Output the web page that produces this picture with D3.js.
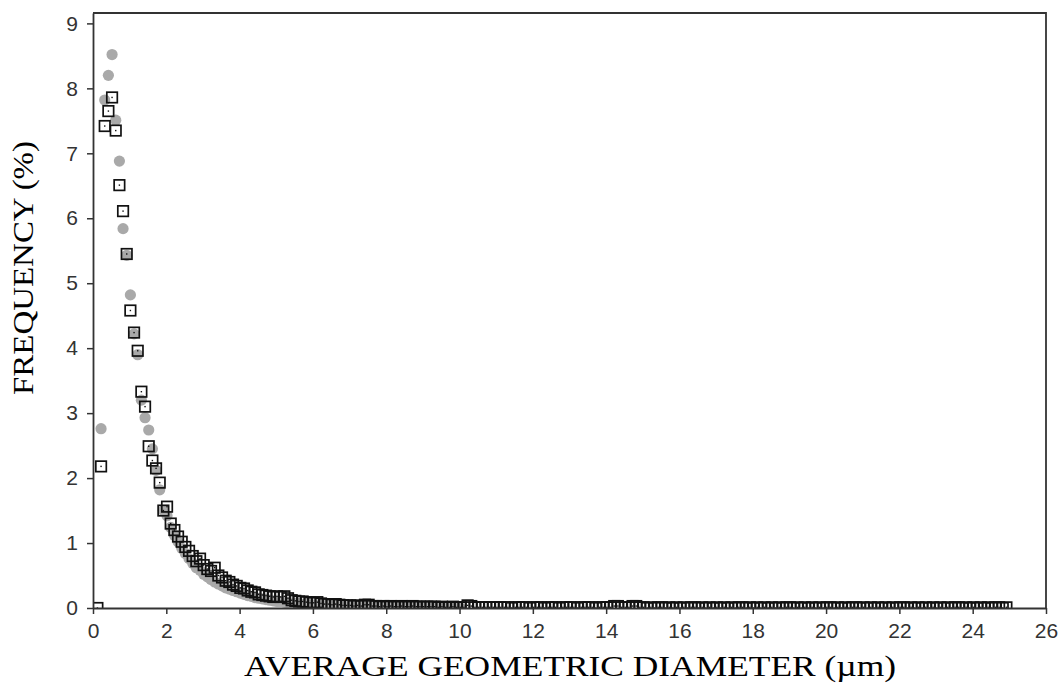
<!DOCTYPE html>
<html>
<head>
<meta charset="utf-8">
<script src="https://cdn.jsdelivr.net/npm/d3@7"></script>
<style>
  body { margin: 0; background: #fff; }
  svg { display: block; }
</style>
</head>
<body>
<svg id="chart" width="1060" height="692"></svg>
<script>
// Size classes: first bin centre and bin width (µm)
const binStart = 0.12;
const binStep = 0.1;

// Frequency (%) per size class, sample measured with open squares
const squareFreq = [
  0.00, 2.18, 7.42, 7.65, 7.86, 7.35, 6.51, 6.11, 5.45, 4.58,
  4.24, 3.96, 3.33, 3.10, 2.49, 2.27, 2.15, 1.93, 1.50, 1.56,
  1.30, 1.20, 1.10, 1.02, 0.94, 0.88, 0.80, 0.72, 0.76, 0.66,
  0.60, 0.57, 0.62, 0.50, 0.47, 0.42, 0.40, 0.36, 0.34, 0.31,
  0.30, 0.27, 0.25, 0.24, 0.21, 0.20, 0.19, 0.18, 0.17, 0.18,
  0.17, 0.18, 0.15, 0.12, 0.11, 0.10, 0.10, 0.09, 0.08, 0.08,
  0.09, 0.07, 0.06, 0.06, 0.05, 0.06, 0.05, 0.04, 0.04, 0.04,
  0.03, 0.04, 0.03, 0.05, 0.05, 0.03, 0.03, 0.02, 0.03, 0.02,
  0.03, 0.02, 0.02, 0.03, 0.02, 0.02, 0.03, 0.02, 0.02, 0.02,
  0.02, 0.02, 0.02, 0.01, 0.02, 0.01, 0.01, 0.02, 0.01, 0.01,
  0.01, 0.04, 0.03, 0.01, 0.01, 0.01, 0.01, 0.01, 0.01, 0.01,
  0.01, 0.01, 0.01, 0.00, 0.01, 0.01, 0.01, 0.01, 0.00, 0.01,
  0.01, 0.01, 0.00, 0.01, 0.01, 0.01, 0.00, 0.01, 0.01, 0.01,
  0.01, 0.00, 0.01, 0.01, 0.01, 0.01, 0.00, 0.01, 0.01, 0.01,
  0.01, 0.03, 0.03, 0.01, 0.01, 0.01, 0.03, 0.03, 0.01, 0.01,
  0.00, 0.01, 0.00, 0.01, 0.01, 0.00, 0.01, 0.00, 0.01, 0.00,
  0.01, 0.00, 0.01, 0.01, 0.00, 0.01, 0.00, 0.01, 0.00, 0.01,
  0.00, 0.01, 0.00, 0.01, 0.00, 0.01, 0.01, 0.00, 0.01, 0.00,
  0.01, 0.00, 0.01, 0.00, 0.01, 0.00, 0.01, 0.00, 0.01, 0.01,
  0.00, 0.01, 0.00, 0.01, 0.00, 0.01, 0.00, 0.01, 0.00, 0.01,
  0.01, 0.00, 0.01, 0.00, 0.01, 0.00, 0.01, 0.01, 0.00, 0.01,
  0.00, 0.01, 0.00, 0.01, 0.00, 0.01, 0.00, 0.01, 0.00, 0.01,
  0.01, 0.00, 0.01, 0.00, 0.01, 0.00, 0.01, 0.00, 0.01, 0.00,
  0.01, 0.00, 0.01, 0.00, 0.01, 0.01, 0.00, 0.01, 0.00, 0.01,
  0.00, 0.01, 0.00, 0.01, 0.00, 0.01, 0.01, 0.00, 0.01
];

// Frequency (%) per size class, sample shown with grey dots (no reading in the first class)
const circleFreq = [
  null, 2.76, 7.82, 8.20, 8.52, 7.51, 6.88, 5.84, 5.43, 4.82,
  4.22, 3.90, 3.20, 2.93, 2.74, 2.45, 2.12, 1.82, 1.50, 1.42,
  1.24, 1.12, 1.02, 0.92, 0.84, 0.76, 0.69, 0.62, 0.58, 0.52,
  0.48, 0.44, 0.40, 0.37, 0.34, 0.31, 0.29, 0.27, 0.25, 0.23,
  0.21, 0.19, 0.18, 0.16, 0.15, 0.14, 0.13, 0.12, 0.11, 0.10,
  0.10, 0.09, 0.08, 0.08, 0.07, 0.07, 0.06, 0.06, 0.05, 0.05,
  0.05, 0.04, 0.04, 0.04, 0.03, 0.03, 0.03, 0.03, 0.03, 0.02,
  0.02, 0.02, 0.02, 0.02, 0.02, 0.02, 0.01, 0.02, 0.01, 0.01,
  0.01, 0.01, 0.01, 0.01, 0.01, 0.01, 0.01, 0.01, 0.01, 0.01,
  0.01, 0.01, 0.00, 0.01, 0.00, 0.01, 0.00, 0.01, 0.00, 0.00
];

const xTickValues = [0, 2, 4, 6, 8, 10, 12, 14, 16, 18, 20, 22, 24, 26];
const yTickValues = [0, 1, 2, 3, 4, 5, 6, 7, 8, 9];
const xTitle = "AVERAGE GEOMETRIC DIAMETER (\u00b5m)";
const yTitle = "FREQUENCY (%)";

const svg = d3.select("#chart");
const plot = { left: 93, top: 13, right: 1046, bottom: 608 };

const x = d3.scaleLinear().domain([0, 26]).range([plot.left, plot.right]);
const y = d3.scaleLinear().domain([0, 9.16]).range([plot.bottom, plot.top]);

const toPoints = arr => arr
  .map((v, i) => ({ d: binStart + binStep * i, f: v }))
  .filter(p => p.f !== null);
const squares = toPoints(squareFreq);
const circles = toPoints(circleFreq);

svg.append("defs").append("clipPath").attr("id", "plotClip")
  .append("rect")
  .attr("x", plot.left).attr("y", plot.top)
  .attr("width", plot.right - plot.left).attr("height", plot.bottom - plot.top);

const marks = svg.append("g").attr("clip-path", "url(#plotClip)");

// grey dots underneath
marks.append("g").selectAll("circle")
  .data(circles).join("circle")
  .attr("cx", p => x(p.d))
  .attr("cy", p => y(p.f))
  .attr("r", 5.6)
  .attr("fill", "#a9a9a9");

// open squares with a centre dot on top
const sq = 10.5;
const sqG = marks.append("g");
sqG.selectAll("rect.box")
  .data(squares).join("rect")
  .attr("class", "box")
  .attr("x", p => x(p.d) - sq / 2)
  .attr("y", p => y(p.f) - sq / 2)
  .attr("width", sq).attr("height", sq)
  .attr("fill", "none")
  .attr("stroke", "#111")
  .attr("stroke-width", 1.7);
sqG.selectAll("rect.dot")
  .data(squares).join("rect")
  .attr("class", "dot")
  .attr("x", p => x(p.d) - 0.7)
  .attr("y", p => y(p.f) - 0.7)
  .attr("width", 1.4).attr("height", 1.4)
  .attr("fill", "#111");

// axes
const tickFont = "'Liberation Sans', Arial, sans-serif";
const xAxis = svg.append("g")
  .attr("transform", `translate(0,${plot.bottom})`)
  .call(d3.axisBottom(x).tickValues(xTickValues).tickFormat(d3.format("d"))
    .tickSize(6).tickSizeOuter(0).tickPadding(9));
const yAxis = svg.append("g")
  .attr("transform", `translate(${plot.left},0)`)
  .call(d3.axisLeft(y).tickValues(yTickValues).tickFormat(d3.format("d"))
    .tickSize(6).tickSizeOuter(0).tickPadding(9));

[xAxis, yAxis].forEach(g => {
  g.select(".domain").attr("stroke", "#333").attr("stroke-width", 1.8);
  g.selectAll(".tick line").attr("stroke", "#333").attr("stroke-width", 1.5);
  g.selectAll(".tick text")
    .attr("font-family", tickFont)
    .attr("font-size", 21)
    .attr("fill", "#333");
});

// top and right frame
svg.append("path")
  .attr("d", `M${plot.left},${plot.top}H${plot.right}V${plot.bottom}`)
  .attr("fill", "none")
  .attr("stroke", "#333")
  .attr("stroke-width", 1.8);

// titles
const titleFont = "'Liberation Serif', 'Times New Roman', serif";
svg.append("text")
  .attr("x", 570).attr("y", 676)
  .attr("text-anchor", "middle")
  .attr("font-family", titleFont)
  .attr("font-size", 29)
  .attr("textLength", 652)
  .attr("lengthAdjust", "spacingAndGlyphs")
  .attr("fill", "#000")
  .text(xTitle);
svg.append("text")
  .attr("transform", "translate(33,268) rotate(-90)")
  .attr("text-anchor", "middle")
  .attr("font-family", titleFont)
  .attr("font-size", 29)
  .attr("textLength", 254)
  .attr("lengthAdjust", "spacingAndGlyphs")
  .attr("fill", "#000")
  .text(yTitle);
</script>
</body>
</html>
